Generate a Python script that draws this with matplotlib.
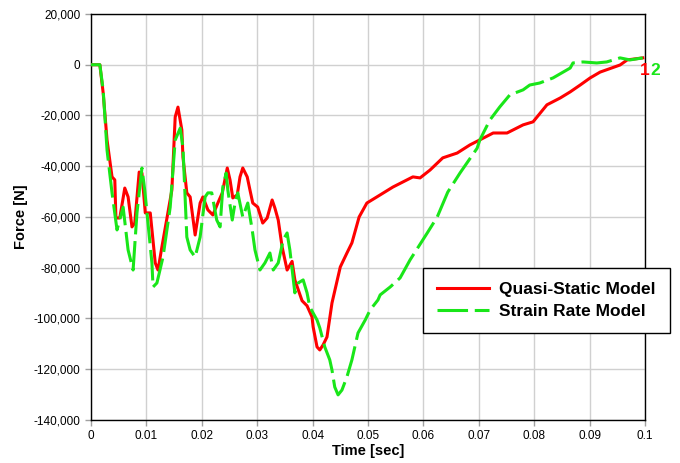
import matplotlib.pyplot as plt
from matplotlib.ticker import FuncFormatter, MultipleLocator

plt.rcParams['font.family'] = ['Liberation Sans', 'DejaVu Sans']

# Quasi-static model (time [s], force [N])
qs_time = [0.0000, 0.0016, 0.0022, 0.0029, 0.0038, 0.0043, 0.0045, 0.0052, 0.0061, 0.0067,
           0.0074, 0.0079, 0.0087, 0.0092, 0.0098, 0.0107, 0.0116, 0.0121, 0.0128, 0.0146,
           0.0152, 0.0157, 0.0164, 0.0166, 0.0173, 0.0179, 0.0188, 0.0197, 0.0202, 0.0211,
           0.0220, 0.0229, 0.0237, 0.0246, 0.0251, 0.0256, 0.0264, 0.0269, 0.0274, 0.0282,
           0.0287, 0.0292, 0.0301, 0.0310, 0.0318, 0.0327, 0.0332, 0.0338, 0.0345, 0.0354,
           0.0363, 0.0368, 0.0381, 0.0390, 0.0399, 0.0401, 0.0408, 0.0413, 0.0419, 0.0426,
           0.0435, 0.0450, 0.0462, 0.0471, 0.0484, 0.0498, 0.0516, 0.0545, 0.0581, 0.0594,
           0.0612, 0.0635, 0.0661, 0.0684, 0.0702, 0.0726, 0.0751, 0.0780, 0.0798, 0.0823,
           0.0847, 0.0865, 0.0883, 0.0901, 0.0919, 0.0955, 0.0968, 0.0996]
qs_force = [0, 0, -11100, -29700, -44200, -45400, -60400, -60400, -48600, -52100,
            -63900, -62400, -42300, -42700, -58400, -58400, -78100, -80900, -71800, -49400,
            -20600, -16700, -25700, -36400, -50500, -52100, -67100, -54500, -52100, -57200,
            -59200, -54500, -50500, -40700, -45400, -52500, -51300, -44200, -40700, -44200,
            -49400, -54500, -56100, -62400, -60400, -53300, -56500, -61200, -71800, -80900,
            -77500, -84800, -93000, -95000, -99400, -103300, -111200, -112400, -110400, -107300,
            -93900, -79700, -74200, -70200, -60000, -54500, -52100, -48200, -44200, -44600,
            -41500, -36700, -34800, -31600, -29600, -26900, -26900, -23700, -22500, -15800,
            -13100, -10700, -8000, -5200, -2900, -100, 1900, 2700]

# Strain rate model (time [s], force [N])
sr_time = [0.0000, 0.0016, 0.0022, 0.0029, 0.0038, 0.0047, 0.0058, 0.0067, 0.0076, 0.0083,
           0.0092, 0.0097, 0.0110, 0.0112, 0.0119, 0.0130, 0.0143, 0.0152, 0.0161, 0.0166,
           0.0173, 0.0179, 0.0188, 0.0197, 0.0206, 0.0211, 0.0218, 0.0227, 0.0233, 0.0238,
           0.0244, 0.0247, 0.0255, 0.0260, 0.0265, 0.0274, 0.0283, 0.0291, 0.0296, 0.0305,
           0.0314, 0.0323, 0.0329, 0.0338, 0.0347, 0.0354, 0.0359, 0.0368, 0.0374, 0.0383,
           0.0390, 0.0395, 0.0408, 0.0413, 0.0422, 0.0431, 0.0435, 0.0440, 0.0446, 0.0453,
           0.0462, 0.0471, 0.0482, 0.0495, 0.0504, 0.0518, 0.0522, 0.0540, 0.0558, 0.0576,
           0.0607, 0.0625, 0.0644, 0.0666, 0.0697, 0.0702, 0.0720, 0.0738, 0.0756, 0.0780,
           0.0792, 0.0810, 0.0834, 0.0865, 0.0870, 0.0888, 0.0913, 0.0931, 0.0955, 0.0973,
           0.0996]
sr_force = [0, 0, -10000, -33700, -50500, -65100, -56100, -73000, -80900, -58400,
            -40700, -49400, -78100, -87600, -86000, -75800, -56100, -29700, -25000, -32400,
            -67900, -73000, -75800, -67900, -52100, -50500, -50500, -61200, -63900, -48200,
            -42700, -49400, -61200, -54500, -50500, -60000, -54500, -65100, -73000, -80900,
            -78100, -74200, -80900, -78100, -69000, -66300, -73000, -89900, -86000, -84800,
            -89900, -95500, -100600, -103700, -111200, -116300, -120300, -127000, -130100, -128200,
            -123000, -116300, -105700, -100600, -96600, -92700, -90700, -87600, -84000, -76900,
            -66300, -60000, -50200, -42700, -32900, -29600, -21800, -16600, -11900, -9900,
            -8000, -7200, -5200, -1300, 700, 1100, 700, 1100, 2700, 1900,
            2700]

series_names = ['Quasi-Static Model', 'Strain Rate Model']

fig = plt.figure(figsize=(6.8, 4.63), dpi=100)
ax = fig.add_axes([0.1338, 0.0929, 0.8147, 0.8769])

red = '#ff0000'
green = '#19e619'
ax.plot(qs_time, qs_force, color=red, lw=2.2, label=series_names[0], zorder=3)
ax.plot(sr_time, sr_force, color=green, lw=2.2, ls=(0, (10, 2.2)),
        label=series_names[1], zorder=4)

ax.set_xlim(0, 0.1)
ax.set_ylim(-140000, 20000)
ax.xaxis.set_major_locator(MultipleLocator(0.01))
ax.yaxis.set_major_locator(MultipleLocator(20000))
ax.yaxis.set_major_formatter(FuncFormatter(lambda v, p: f'{int(round(v)):,}'))
ax.xaxis.set_major_formatter(FuncFormatter(lambda v, p: '0' if abs(v) < 1e-9 else f'{v:.2f}'.rstrip('0')))
ax.grid(True, color='#d0d0d0', lw=1)
ax.set_axisbelow(True)
ax.tick_params(axis='both', labelsize=8.5, length=4, color='#a0a0a0', width=1)
for s in ax.spines.values():
    s.set_color('black')
    s.set_linewidth(1)

ax.set_xlabel('Time [sec]', fontsize=10.5, fontweight='bold', labelpad=1)
ax.set_ylabel('Force [N]', fontsize=10.5, fontweight='bold', labelpad=4)

# curve end markers
ax.text(0.1000, -2300, '1', color=red, fontsize=12.5, fontweight='bold',
        ha='center', va='center', clip_on=False, zorder=5)
ax.text(0.1018, -2300, '2', color=green, fontsize=12.5, fontweight='bold',
        ha='center', va='center', clip_on=False, zorder=5)

leg = fig.legend(loc='upper left', bbox_to_anchor=(423 / 680, 1 - 268 / 463, 247 / 680, 0),
                 mode='expand', prop={'weight': 'bold', 'size': 12.5},
                 frameon=True, fancybox=False, edgecolor='black', framealpha=1,
                 handlelength=3.0, handletextpad=0.6, borderpad=0.8, labelspacing=0.38,
                 borderaxespad=0)
leg.get_frame().set_linewidth(1)

fig.savefig('out.png', dpi=100)
